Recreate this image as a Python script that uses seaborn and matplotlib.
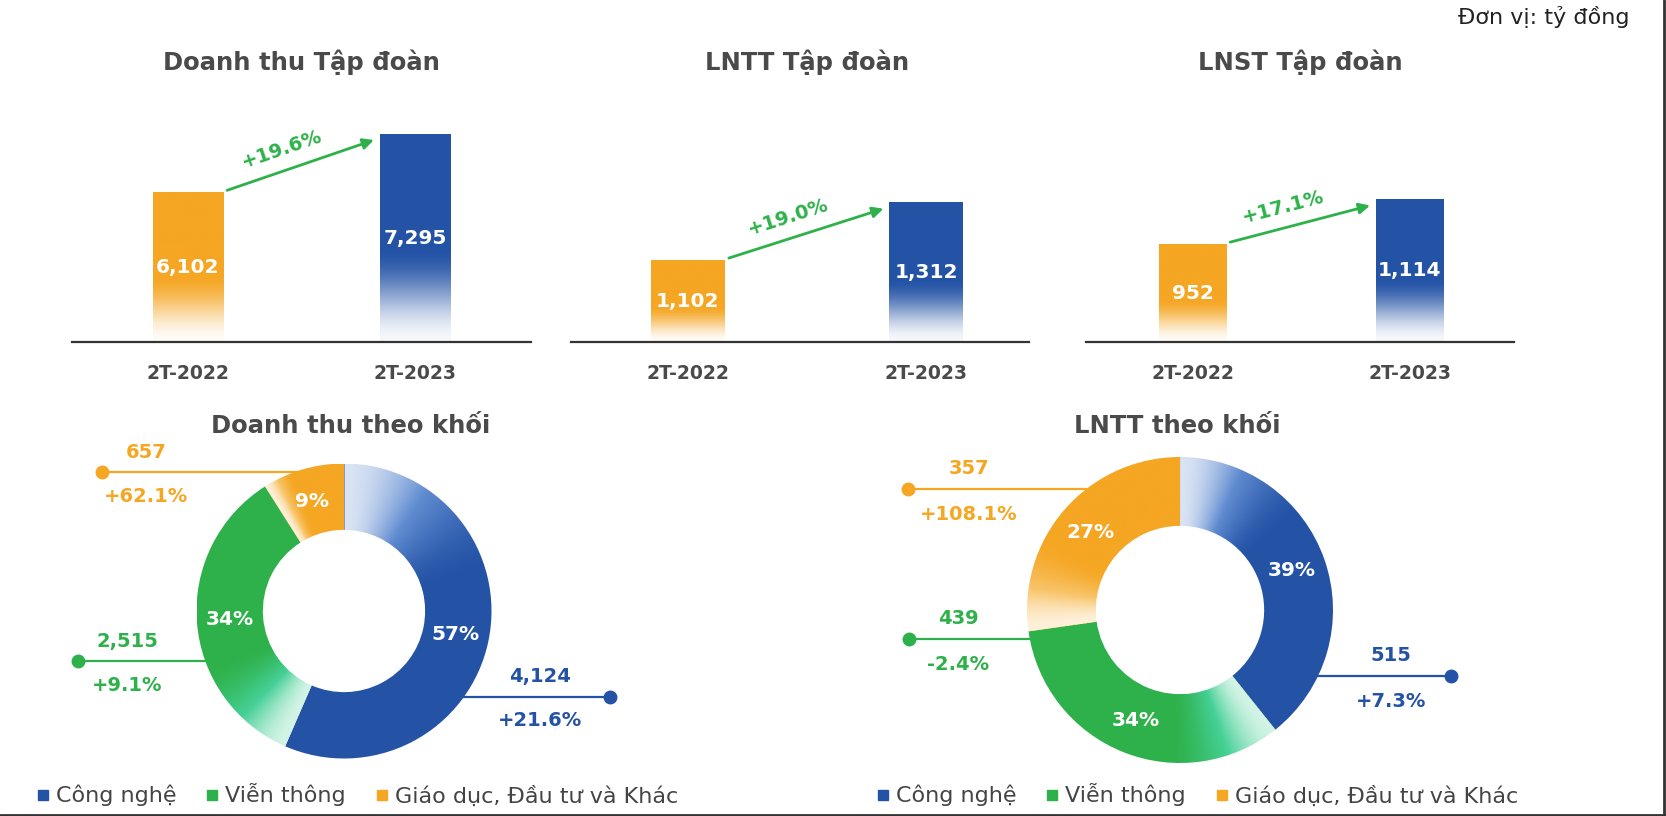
import numpy as np
import pandas as pd
import matplotlib
matplotlib.use("Agg")
import matplotlib.pyplot as plt
import seaborn as sns
from matplotlib.colors import LinearSegmentedColormap, to_rgb
from matplotlib.lines import Line2D

# ---- data ----
periods = ["2T-2022", "2T-2023"]
bar_titles = ["Doanh thu Tập đoàn", "LNTT Tập đoàn", "LNST Tập đoàn"]
revenue = [6102, 7295]
pretax = [1102, 1312]
aftertax = [952, 1114]
group_growth = ["+19.6%", "+19.0%", "+17.1%"]

segments = ["Công nghệ", "Viễn thông", "Giáo dục, Đầu tư và Khác"]
rev_by_seg = [4124, 2515, 657]
rev_seg_pct = ["57%", "34%", "9%"]
rev_seg_growth = ["+21.6%", "+9.1%", "+62.1%"]
pbt_by_seg = [515, 439, 357]
pbt_seg_pct = ["39%", "34%", "27%"]
pbt_seg_growth = ["+7.3%", "-2.4%", "+108.1%"]

ORANGE = "#F5A623"
BLUE = "#2453A6"
GREEN = "#2EB14A"
GRAY = "#4A4A4A"
seg_colors = [BLUE, GREEN, ORANGE]
seg_mids = ["#5F8BD0", "#45D096", "#F8C468"]

sns.set_theme(style="white")
plt.rcParams["font.family"] = ["DejaVu Sans"]

W, H = 1666, 816
fig = plt.figure(figsize=(W / 100, H / 100), dpi=100)
fig.patch.set_facecolor("white")


def px_box(x0, y0, x1, y1):
    return [x0 / W, 1 - y1 / H, (x1 - x0) / W, (y1 - y0) / H]


# ---- bar charts ----
bar_sets = [revenue, pretax, aftertax]
bar_spans = [(72, 531), (571, 1029), (1086, 1514)]
bar_xlims = [(-0.51, 1.51), (-0.49, 1.43), (-0.49, 1.48)]
bar_ylims = [(3039, 7991), (802, 1688), (597, 1475)]
title_x = [301, 807, 1300]

for vals, span, xl, yl, title, growth, tx in zip(bar_sets, bar_spans, bar_xlims,
                                                 bar_ylims, bar_titles, group_growth, title_x):
    ax = fig.add_axes(px_box(span[0], 100, span[1], 342))
    df = pd.DataFrame({"period": periods, "value": vals})
    sns.barplot(data=df, x="period", y="value", hue="period", palette=[ORANGE, BLUE],
                width=0.31, saturation=1, legend=False, ax=ax)
    ax.set_xlim(*xl)
    ax.set_ylim(*yl)
    ax.set_xlabel("")
    ax.set_ylabel("")
    ax.set_yticks([])
    sns.despine(ax=ax, left=True)
    ax.spines["bottom"].set_color("#333333")
    ax.spines["bottom"].set_linewidth(1.6)
    ax.tick_params(axis="x", length=0, pad=16)
    for lab in ax.get_xticklabels():
        lab.set_fontsize(13.5)
        lab.set_fontweight("bold")
        lab.set_color(GRAY)

    t = np.linspace(0, 1, 256)[:, None]
    s = np.clip(t / 0.45, 0, 1)
    f = 0.04 + 0.96 * s * s * (3 - 2 * s)
    for patch, v in zip(ax.patches, vals):
        c = np.array(to_rgb(patch.get_facecolor()))
        img = (1 - f)[..., None] * np.ones(3) + f[..., None] * c
        x0, w = patch.get_x(), patch.get_width()
        ax.imshow(img, extent=(x0, x0 + w, yl[0], v), origin="lower", aspect="auto",
                  zorder=patch.get_zorder() + 0.1)
        patch.set_facecolor("none")
        ax.text(x0 + w / 2, (yl[0] + v) / 2, f"{v:,}", ha="center", va="center",
                color="white", fontsize=14.5, fontweight="bold", zorder=5)
    ax.set_xlim(*xl)
    ax.set_ylim(*yl)

    o, b = ax.patches[0], ax.patches[1]
    p0 = ax.transData.transform((o.get_x() + o.get_width(), vals[0])) + np.array([4, 2])
    p1 = ax.transData.transform((b.get_x(), vals[1])) + np.array([-6, -6])
    ax.annotate("", xy=p1, xytext=p0, xycoords="figure pixels", textcoords="figure pixels",
                arrowprops=dict(arrowstyle="-|>", color=GREEN, lw=2, mutation_scale=16,
                                shrinkA=0, shrinkB=0))
    d = p1 - p0
    u = d / np.hypot(*d)
    n = np.array([-u[1], u[0]])
    pos = (p0 + p1) / 2 - 12 * u + 21 * n
    ax.annotate(growth, xy=pos, xycoords="figure pixels", ha="center", va="center",
                rotation=np.degrees(np.arctan2(d[1], d[0])), color=GREEN,
                fontsize=14, fontweight="bold")

    fig.text(tx / W, 1 - 62 / H, title, ha="center", va="center", fontsize=17.5,
             fontweight="bold", color=GRAY)

fig.text(1629 / W, 1 - 17 / H, "Đơn vị: tỷ đồng", ha="right", va="center",
         fontsize=16, color="#222222")

# ---- donuts ----
grid = np.linspace(-1, 1, 500)
GX, GY = np.meshgrid(grid, grid)
ANG = np.degrees(np.arctan2(GY, GX))


def draw_donut(cx, cy, R, values, pct_labels, growths, leaders, title, title_cx):
    ax = fig.add_axes(px_box(cx - R, cy - R, cx + R, cy + R))
    wedges, _ = ax.pie(values, colors=seg_colors, startangle=90, counterclock=False,
                       radius=1, wedgeprops=dict(width=0.45, linewidth=0))
    for w, c, mid, lab in zip(wedges, seg_colors, seg_mids, pct_labels):
        span = w.theta2 - w.theta1
        dist = (w.theta2 - ANG) % 360
        s = np.clip(dist / (0.37 * span), 0, 1)
        f = 0.12 + 0.88 * s * s * (3 - 2 * s)
        cmap = LinearSegmentedColormap.from_list("seg", ["white", mid, c])
        im = ax.imshow(cmap(f), extent=(-1, 1, -1, 1), origin="lower",
                       zorder=w.get_zorder() + 0.1)
        im.set_clip_path(w)
        w.set_facecolor("none")
        a = np.radians((w.theta1 + w.theta2) / 2)
        ax.text(0.775 * np.cos(a), 0.775 * np.sin(a), lab, ha="center", va="center",
                color="white", fontsize=14.5, fontweight="bold", zorder=5)
    for v, g, c, (dx, dy, ex, txx) in zip(values, growths, seg_colors, leaders):
        ax.plot([dx, ex], [dy, dy], color=c, lw=1.6, zorder=0.5, clip_on=False)
        ax.plot([dx], [dy], "o", color=c, ms=9, zorder=3, clip_on=False)
        ax.text(txx, dy + 0.135, f"{v:,}", ha="center", va="center", color=c,
                fontsize=14, fontweight="bold")
        ax.text(txx, dy - 0.165, g, ha="center", va="center", color=c,
                fontsize=14, fontweight="bold")
    ax.set_xlim(-1, 1)
    ax.set_ylim(-1, 1)
    ax.set_aspect("equal")
    ax.axis("off")
    fig.text(title_cx / W, 1 - 426 / H, title, ha="center", va="center", fontsize=17.5,
             fontweight="bold", color=GRAY)


# leader layout: dot x, line y, line end x, text x (radius units)
draw_donut(344, 611, 147.5, rev_by_seg, rev_seg_pct, rev_seg_growth,
           [(1.80, -0.58, 0.80, 1.33), (-1.80, -0.34, -0.90, -1.47), (-1.64, 0.94, -0.25, -1.34)],
           "Doanh thu theo khối", 351)
draw_donut(1180, 610, 153, pbt_by_seg, pbt_seg_pct, pbt_seg_growth,
           [(1.77, -0.43, 0.85, 1.38), (-1.77, -0.19, -0.95, -1.45), (-1.78, 0.79, -0.5, -1.38)],
           "LNTT theo khối", 1177)

# ---- legends ----
handles = [Line2D([], [], marker="s", ls="", color=c, ms=7) for c in seg_colors]
for x0 in (36, 876):
    fig.legend(handles, segments, loc="center left", bbox_to_anchor=(x0 / W, 1 - 795 / H),
               ncol=3, frameon=False, handlelength=0.6, handletextpad=0.3,
               columnspacing=1.3, fontsize=16, borderaxespad=0, borderpad=0,
               labelcolor="#444444")

# frame edges
fig.add_artist(Line2D([1664 / W, 1664 / W], [0, 1], transform=fig.transFigure,
                      color="#333333", lw=2))
fig.add_artist(Line2D([0, 1], [1 / H, 1 / H], transform=fig.transFigure,
                      color="#333333", lw=2))

fig.savefig("out.png", dpi=100)
